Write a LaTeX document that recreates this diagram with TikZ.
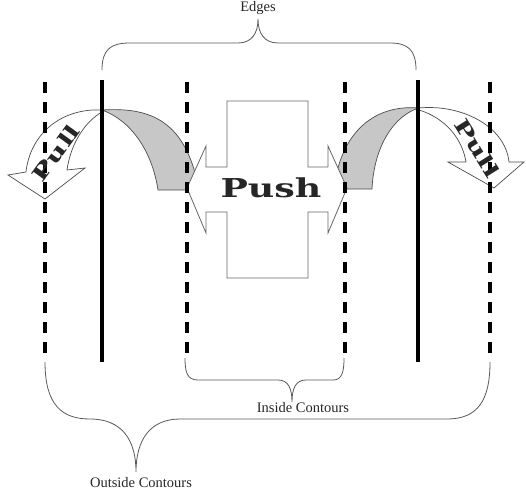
\documentclass[tikz,border=0pt]{standalone}
\usepackage{fontspec}
\newfontfamily\labelfont{Liberation Serif}
\newfontfamily\heavyfont{DejaVu Serif}
\begin{document}
\begin{tikzpicture}[x=1pt,y=-1pt,
  brace/.style={draw=black!65, line width=0.8pt},
  dashline/.style={line width=3.3pt, dash pattern=on 11pt off 9pt},
  solidline/.style={line width=3.4pt},
  grayband/.style={fill=black!22, draw=black!70, line width=0.7pt},
  whitearrow/.style={fill=white, draw=black!70, line width=0.7pt},
  pushshape/.style={fill=white, draw=black!60, line width=0.8pt},
  lbl/.style={font=\labelfont\fontsize{14.5}{17}\selectfont, text=black!85, inner sep=0pt},
  pushtext/.style={font=\heavyfont\bfseries\fontsize{26}{28}\selectfont, text=black!85, inner sep=0pt},
  pulltext/.style={font=\heavyfont\bfseries\fontsize{20}{22}\selectfont, text=black!85, inner sep=0pt},
]
\useasboundingbox (0,0) rectangle (526,494);

% gray tails
\draw[grayband] (158,190) -- (199,190) .. controls (186,120) and (150,107) .. (102,110)
  .. controls (130,120) and (152,150) .. (158,190) -- cycle;
\draw[grayband] (372,189) -- (334,189) .. controls (340,135) and (372,104) .. (419,108)
  .. controls (395,115) and (374,145) .. (372,189) -- cycle;

% white pull heads
\draw[whitearrow] (102,110) .. controls (60,108) and (30,135) .. (26,172) -- (8,175) -- (45,199)
  -- (85,168) -- (67,170) .. controls (71,142) and (86,121) .. (102,112) -- cycle;
\draw[whitearrow] (419,108) .. controls (460,104) and (505,125) .. (509,162) -- (524,162)
  -- (494,188) -- (448,162) -- (466,162) .. controls (462,138) and (445,118) .. (419,110) -- cycle;

% push shape
\draw[pushshape] (227,101) -- (308,101) -- (308,167) -- (328,167) -- (328,146) -- (347,188)
  -- (328,233) -- (328,212) -- (308,212) -- (308,278) -- (227,278) -- (227,212) -- (206,212)
  -- (206,233) -- (187,188) -- (206,146) -- (206,167) -- (227,167) -- cycle;

% vertical lines
\coordinate (d1t) at (45,82);  \coordinate (d1b) at (45,355);
\coordinate (d2t) at (187,82); \coordinate (d2b) at (187,355);
\coordinate (d3t) at (345,82); \coordinate (d3b) at (345,355);
\coordinate (d4t) at (490,82); \coordinate (d4b) at (490,355);
\coordinate (s1t) at (102,80); \coordinate (s1b) at (102,362);
\coordinate (s2t) at (418,80); \coordinate (s2b) at (418,362);
\draw[dashline] (d1t) -- (d1b);
\draw[dashline] (d2t) -- (d2b);
\draw[dashline] (d3t) -- (d3b);
\draw[dashline] (d4t) -- (d4b);
\draw[solidline] (s1t) -- (s1b);
\draw[solidline] (s2t) -- (s2b);

% texts in arrows
\node[pushtext] (push) at (271,188) {\scalebox{1.4}[1]{Push}};
\node[pulltext, rotate=54] (pullL) at (56,153) {\scalebox{1.45}[1]{Pull}};
\node[pulltext, rotate=-58] (pullR) at (477,148) {\scalebox{1.45}[1]{Pull}};

% braces
\draw[brace] (102,70) .. controls (102,50) and (110,43) .. (130,43) -- (238,43)
  .. controls (252,43) and (258,33) .. (258,19)
  .. controls (258,33) and (264,43) .. (278,43) -- (390,43)
  .. controls (408,43) and (416,50) .. (416,70);
\node[lbl] (edges) at (258,8) {Edges};

\draw[brace] (185,358) .. controls (185,372) and (187,380) .. (198,380) -- (278,380)
  .. controls (288,380) and (292,388) .. (292,402)
  .. controls (292,388) and (296,380) .. (306,380) -- (333,380)
  .. controls (342,380) and (344,372) .. (344,358);
\node[lbl] (inside) at (303,408) {Inside Contours};

\draw[brace] (45,362) .. controls (45,405) and (62,419) .. (90,419)
  .. controls (122,419) and (136,440) .. (136,472)
  .. controls (136,440) and (150,419) .. (180,419) -- (447,419)
  .. controls (478,419) and (490,400) .. (490,362);
\node[lbl] (outside) at (141,483) {Outside Contours};
\end{tikzpicture}
\end{document}
